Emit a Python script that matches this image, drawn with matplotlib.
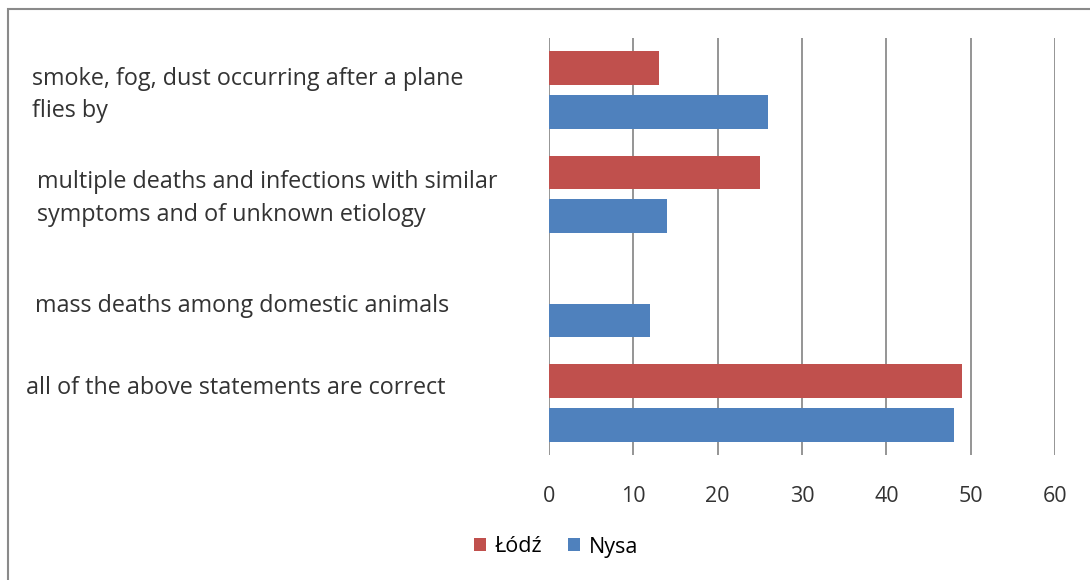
import matplotlib

matplotlib.use("Agg")

import matplotlib.pyplot as plt
import numpy as np
from matplotlib.patches import Rectangle

plt.rcParams["font.family"] = ["Open Sans", "DejaVu Sans"]

categories = [
    "smoke, fog, dust occurring after a plane\nflies by",
    "multiple deaths and infections with similar\nsymptoms and of unknown etiology",
    "mass deaths among domestic animals",
    "all of the above statements are correct",
]
lodz = [13, 25, 0, 49]
nysa = [26, 14, 12, 48]
xticks = [0, 10, 20, 30, 40, 50, 60]

# label placement per category (axes-fraction x, data-y offset)
label_x = [-1.022, -1.012, -1.016, -1.034]
label_dy = [0.05, 0.04, 0.07, -0.14]

RED = "#C0504D"
BLUE = "#4F81BD"
GRID = "#8C8C8C"
TEXT = "#333333"

fig = plt.figure(figsize=(10.9, 5.8), dpi=100)
ax = fig.add_axes([549 / 1090, 1 - 455 / 580, (1055 - 549) / 1090, (455 - 38) / 580])

y = np.arange(len(categories))
h = 0.325
ax.barh(y - 0.21, lodz, height=h, color=RED, label="Łódź")
ax.barh(y + 0.21, nysa, height=h, color=BLUE, label="Nysa")

ax.set_xlim(0, 60)
ax.set_ylim(len(categories) - 0.5, -0.5)
ax.set_xticks(xticks)
ax.set_xticklabels([str(t) for t in xticks], fontsize=15.5, color=TEXT)
ax.tick_params(axis="x", length=0, pad=22)
ax.set_yticks([])
ax.grid(axis="x", color=GRID, linewidth=1.3)
ax.set_axisbelow(True)
for s in ax.spines.values():
    s.set_visible(False)

for i, text in enumerate(categories):
    ax.text(label_x[i], i + label_dy[i], text, transform=ax.get_yaxis_transform(),
            ha="left", va="center", fontsize=16.8, color=TEXT, linespacing=1.45)

handles, labels = ax.get_legend_handles_labels()
fig.legend(handles, labels, loc="center", bbox_to_anchor=(556 / 1090, 1 - 547 / 580),
           ncol=2, frameon=False, fontsize=15.5, handlelength=0.55, handleheight=0.55,
           handletextpad=0.4, columnspacing=1.2)

fig.add_artist(Rectangle((8 / 1090, -0.1), 1.2, 1 - 9 / 580 + 0.1,
                         transform=fig.transFigure, fill=False,
                         edgecolor="#8A8A8A", linewidth=1.5))

fig.savefig("out.png", dpi=100)
